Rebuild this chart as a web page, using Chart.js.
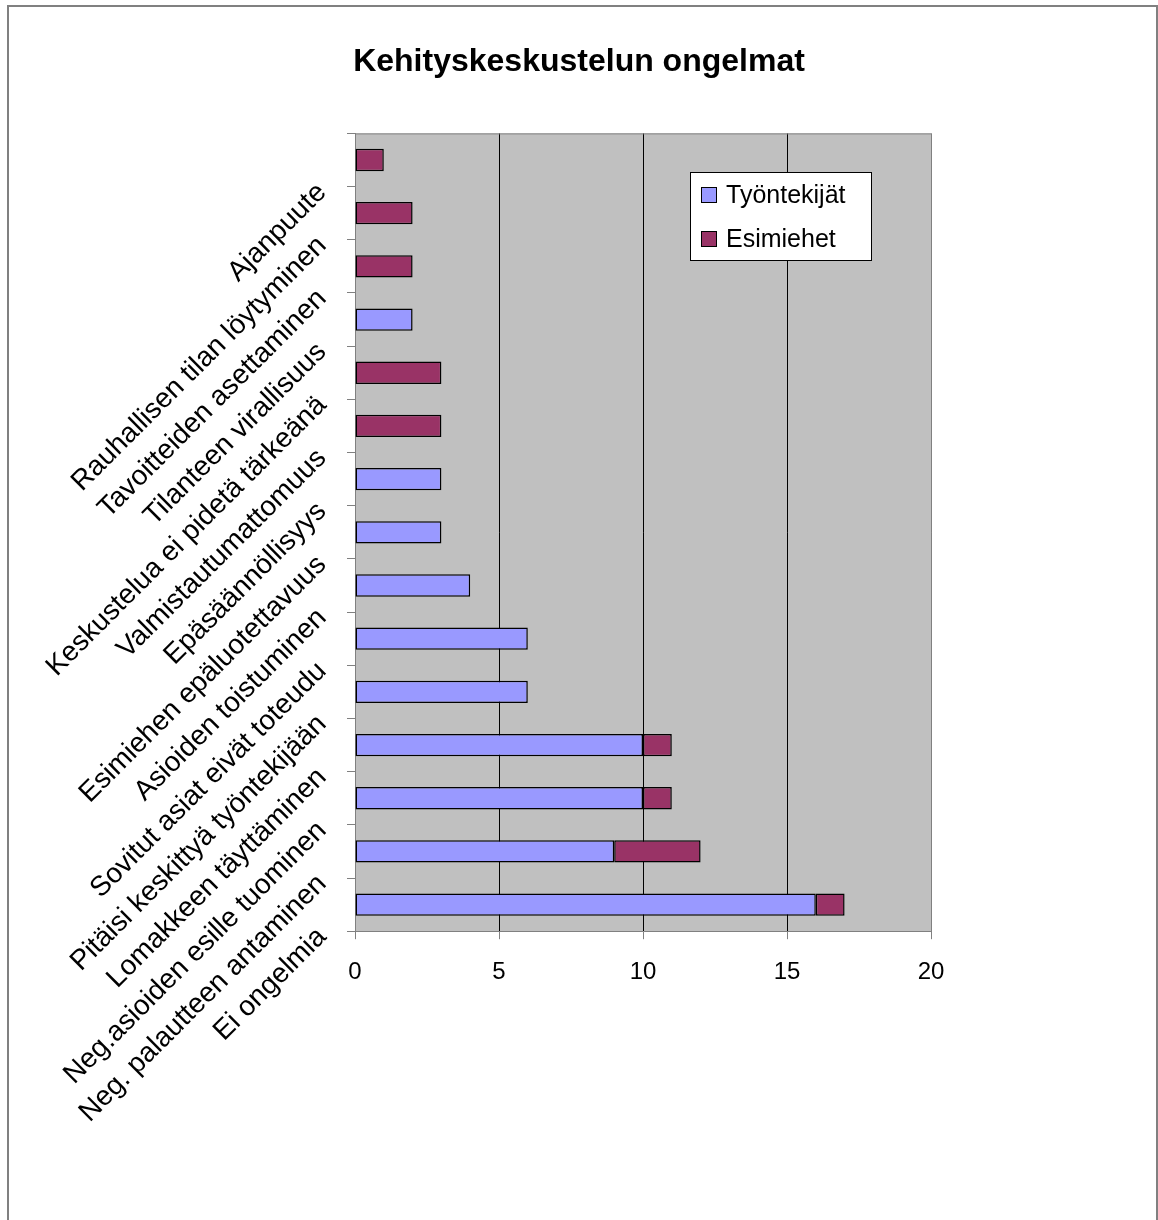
<!DOCTYPE html>
<html>
<head>
<meta charset="utf-8">
<script src="https://cdn.jsdelivr.net/npm/chart.js@4"></script>
<style>
  body { margin: 0; background: #fff; }
  #frame { position: absolute; left: 7px; top: 5px; width: 1147px; height: 1300px;
           border: 2px solid #808080; border-bottom: none; }
  #chart { position: absolute; left: 0; top: 0; }
</style>
</head>
<body>
<div id="frame"></div>
<canvas id="chart" width="1158" height="1220"></canvas>
<script>
const categories = [
  'Ajanpuute',
  'Rauhallisen tilan löytyminen',
  'Tavoitteiden asettaminen',
  'Tilanteen virallisuus',
  'Keskustelua ei pidetä tärkeänä',
  'Valmistautumattomuus',
  'Epäsäännöllisyys',
  'Esimiehen epäluotettavuus',
  'Asioiden toistuminen',
  'Sovitut asiat eivät toteudu',
  'Pitäisi keskittyä työntekijään',
  'Lomakkeen täyttäminen',
  'Neg.asioiden esille tuominen',
  'Neg. palautteen antaminen',
  'Ei ongelmia'
];
const tyontekijat = [0, 0, 0, 2, 0, 0, 3, 3, 4, 6, 6, 10, 10, 9, 16];
const esimiehet = [1, 2, 2, 0, 3, 3, 0, 0, 0, 0, 0, 1, 1, 3, 1];
const xTicks = [0, 5, 10, 15, 20];

const FONT = "'Liberation Sans', Arial, sans-serif";

// gray plot background + frame round the plot
const plotArea = {
  id: 'plotArea',
  beforeDraw(chart) {
    const a = chart.chartArea, ctx = chart.ctx;
    ctx.save();
    ctx.fillStyle = '#C0C0C0';
    ctx.fillRect(a.left, a.top, a.right - a.left, a.bottom - a.top);
    ctx.restore();
  },
  beforeDatasetsDraw(chart) {
    const a = chart.chartArea, ctx = chart.ctx;
    ctx.save();
    ctx.strokeStyle = '#808080';
    ctx.lineWidth = 1;
    ctx.beginPath();
    ctx.moveTo(a.left, a.top + 0.5);
    ctx.lineTo(a.right + 0.5, a.top + 0.5);
    ctx.lineTo(a.right + 0.5, a.bottom);
    ctx.stroke();
    ctx.restore();
  }
};

// boxed legend inside the plot, like the original
const boxLegend = {
  id: 'boxLegend',
  afterDraw(chart) {
    const ctx = chart.ctx;
    const x = 690, y = 172, w = 181, h = 88;
    ctx.save();
    ctx.fillStyle = '#fff';
    ctx.fillRect(x, y, w, h);
    ctx.strokeStyle = '#000';
    ctx.lineWidth = 1;
    ctx.strokeRect(x + 0.5, y + 0.5, w, h);
    ctx.font = '25px ' + FONT;
    ctx.textBaseline = 'middle';
    chart.data.datasets.forEach((ds, i) => {
      const cy = y + 23 + i * 44;
      ctx.fillStyle = ds.backgroundColor;
      ctx.fillRect(x + 11, cy - 8, 15, 15);
      ctx.strokeStyle = '#000';
      ctx.strokeRect(x + 11.5, cy - 7.5, 15, 15);
      ctx.fillStyle = '#000';
      ctx.fillText(ds.label, x + 36, cy + 1);
    });
    ctx.restore();
  }
};

new Chart(document.getElementById('chart'), {
  type: 'bar',
  data: {
    labels: categories,
    datasets: [
      {
        label: 'Työntekijät',
        data: tyontekijat,
        backgroundColor: '#9999FF',
        borderColor: '#000',
        borderWidth: ctx => ctx.raw ? 1.5 : 0,
        borderSkipped: false,
        categoryPercentage: 1,
        barPercentage: 0.42
      },
      {
        label: 'Esimiehet',
        data: esimiehet,
        backgroundColor: '#993366',
        borderColor: '#000',
        borderWidth: ctx => ctx.raw ? 1.5 : 0,
        borderSkipped: false,
        categoryPercentage: 1,
        barPercentage: 0.42
      }
    ]
  },
  options: {
    indexAxis: 'y',
    responsive: false,
    animation: false,
    layout: { padding: { left: 0, right: 0, top: 0, bottom: 214 } },
    plugins: {
      legend: { display: false },
      tooltip: { enabled: false },
      title: {
        display: true,
        text: 'Kehityskeskustelun ongelmat',
        color: '#000',
        font: { family: FONT, size: 32, weight: 'bold' },
        padding: { top: 43, bottom: 52 }
      }
    },
    scales: {
      x: {
        stacked: true,
        min: 0,
        max: 20,
        afterBuildTicks: s => { s.ticks = xTicks.map(v => ({ value: v })); },
        border: { color: '#808080', width: 1 },
        grid: {
          color: ctx => (ctx.tick && (ctx.tick.value === 0 || ctx.tick.value === 20)) ? '#808080' : '#000',
          tickColor: '#808080',
          tickLength: 8,
          lineWidth: 1
        },
        ticks: {
          color: '#000',
          padding: 19,
          font: { family: FONT, size: 24 }
        }
      },
      y: {
        stacked: true,
        afterFit: s => { s.width = 355; },
        border: { color: '#808080', width: 1 },
        grid: {
          drawOnChartArea: false,
          tickColor: '#808080',
          tickLength: 8
        },
        ticks: {
          color: '#000',
          minRotation: 45,
          maxRotation: 45,
          padding: 25,
          labelOffset: 28,
          autoSkip: false,
          font: { family: FONT, size: 28 }
        }
      },
      // empty spacer on the right so the title stays centred on the page
      spacer: {
        type: 'linear',
        position: 'right',
        afterFit: s => { s.width = 227; },
        grid: { display: false },
        border: { display: false },
        ticks: { display: false }
      }
    }
  },
  plugins: [plotArea, boxLegend]
});
</script>
</body>
</html>
